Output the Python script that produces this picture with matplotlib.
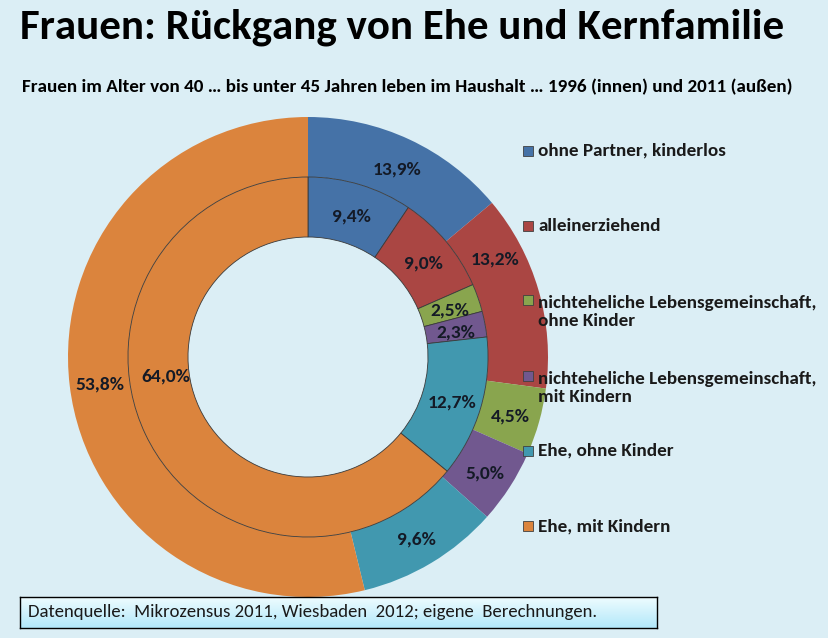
import matplotlib
matplotlib.use("Agg")
import matplotlib.pyplot as plt
from matplotlib.patches import Rectangle
import numpy as np

categories = ["ohne Partner, kinderlos", "alleinerziehend",
              "nichteheliche Lebensgemeinschaft,\nohne Kinder",
              "nichteheliche Lebensgemeinschaft,\nmit Kindern",
              "Ehe, ohne Kinder", "Ehe, mit Kindern"]
werte_1996 = [9.4, 9.0, 2.5, 2.3, 12.7, 64.0]   # innen
werte_2011 = [13.9, 13.2, 4.5, 5.0, 9.6, 53.8]  # außen
farben = ["#4572A7", "#AA4643", "#89A54E", "#71588F", "#4198AF", "#DB843D"]

plt.rcParams['font.family'] = ['Carlito', 'Lato', 'DejaVu Sans']

W, H = 829, 638
fig = plt.figure(figsize=(W / 100, H / 100), dpi=100)
fig.patch.set_facecolor("#dbeef5")


def fx(px):
    return px / W


def fy(py):
    return 1 - py / H


# Ring-Achse: Mitte (308, 357), Außenradius 240 px
cx, cy, r = 308, 357, 240
ax = fig.add_axes([fx(cx - r), fy(cy + r), 2 * r / W, 2 * r / H])

outer, _ = ax.pie(werte_2011, radius=1.0, colors=farben, startangle=90,
                  counterclock=False, wedgeprops=dict(width=0.25, linewidth=0))
inner, _ = ax.pie(werte_1996, radius=0.75, colors=farben, startangle=90,
                  counterclock=False,
                  wedgeprops=dict(width=0.25, edgecolor="#3a3a3a", linewidth=0.6))
ax.set_xlim(-1, 1)
ax.set_ylim(-1, 1)
ax.axis("off")


def fmt(v):
    return f"{v:.1f}%".replace(".", ",")


def beschriften(wedges, werte, rad, verschoben):
    # verschoben: {index: (dx, dy)} in Pixel, y nach unten
    for i, (w, v) in enumerate(zip(wedges, werte)):
        ang = np.deg2rad((w.theta1 + w.theta2) / 2)
        dx, dy = verschoben.get(i, (0, 0))
        ax.annotate(fmt(v), (rad * np.cos(ang), rad * np.sin(ang)),
                    xytext=(dx * 0.72, -(dy + 2.5) * 0.72), textcoords="offset points",
                    ha="center", va="center", fontsize=14, fontweight="bold",
                    color="#141a26")


beschriften(outer, werte_2011, 0.875, {1: (-15, -41)})
beschriften(inner, werte_1996, 0.625, {5: (-7, -47)})

# Titel
fig.text(fx(20), fy(27), "Frauen: Rückgang von Ehe und Kernfamilie",
         fontsize=31, fontweight="bold", va="center", ha="left", color="black")
fig.text(fx(22), fy(87),
         "Frauen im Alter von 40 … bis unter 45 Jahren leben im Haushalt … 1996 (innen) und 2011 (außen)",
         fontsize=13.8, fontweight="bold", va="center", ha="left", color="black")

# Legende
leg_y = [151, 226, 300, 376, 451, 526]
for lab, col, y in zip(categories, farben, leg_y):
    fig.patches.append(Rectangle((fx(523), fy(y + 5)), 10 / W, 10 / H,
                                 transform=fig.transFigure, facecolor=col,
                                 edgecolor="#404040", linewidth=0.6))
    ty = y + 12 if "\n" in lab else y
    fig.text(fx(538), fy(ty), lab, fontsize=13.8, fontweight="bold", va="center",
             ha="left", color="#1a1a1a", linespacing=1.2)

# Quellenkasten mit Verlauf
bax = fig.add_axes([fx(20), fy(628), 637 / W, 31 / H])
grad = np.linspace(0, 1, 64).reshape(-1, 1)
top = np.array([0.94, 0.99, 1.0])
bot = np.array([0.70, 0.91, 0.98])
img = top + (bot - top) * grad[..., None]
bax.imshow(img, aspect="auto", extent=[0, 1, 0, 1], origin="upper")
bax.set_xticks([])
bax.set_yticks([])
for s in bax.spines.values():
    s.set_linewidth(1.0)
    s.set_color("black")
bax.text(0.012, 0.5, "Datenquelle:  Mikrozensus 2011, Wiesbaden  2012; eigene  Berechnungen.",
         fontsize=13.5, va="center", ha="left", transform=bax.transAxes, color="#1a1a1a")

fig.savefig("out.png", dpi=100, facecolor=fig.get_facecolor())
